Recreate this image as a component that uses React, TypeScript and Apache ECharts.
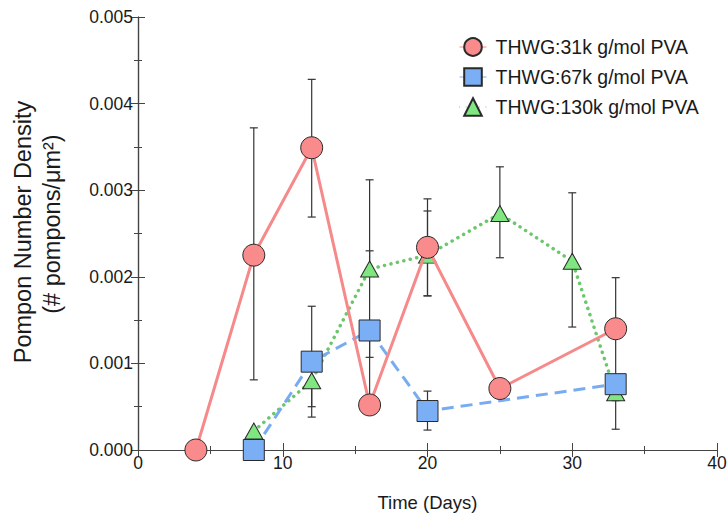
import React, { useEffect, useRef } from "react";
import * as echarts from "echarts";

const seriesNames = ["THWG:31k g/mol PVA", "THWG:67k g/mol PVA", "THWG:130k g/mol PVA"];

const days31 = [4, 8, 12, 16, 20, 25, 33];
const dens31 = [0, 0.00225, 0.00349, 0.00052, 0.00234, 0.00071, 0.0014];
const err31 = [
  [8, 0.00081, 0.00372],
  [12, 0.00269, 0.00428],
  [16, 0.00052, 0.00312],
  [20, 0.00178, 0.0029],
  [33, 0.0008, 0.00199],
];

const days67 = [8, 12, 16, 20, 33];
const dens67 = [0, 0.00102, 0.00138, 0.00045, 0.00076];
const err67 = [
  [12, 0.00038, 0.00166],
  [16, 0.00107, 0.00138],
  [20, 0.00023, 0.00068],
  [33, 0.00024, 0.00076],
];

const days130 = [8, 12, 16, 20, 25, 30, 33];
const dens130 = [0.00022, 0.0008, 0.00209, 0.00225, 0.00273, 0.00218, 0.00066];
const err130 = [
  [12, 0.0005, 0.0008],
  [16, 0.00209, 0.0023],
  [20, 0.00178, 0.00276],
  [25, 0.00222, 0.00327],
  [30, 0.00142, 0.00297],
  [33, 0.00057, 0.00066],
];

const FONT = "'Liberation Sans', Arial, Helvetica, sans-serif";

const errorRender = (params: any, api: any) => {
  const x = api.value(0);
  const lo = api.coord([x, api.value(1)]);
  const hi = api.coord([x, api.value(2)]);
  const cap = 4;
  const style = { stroke: "#333", lineWidth: 1.2 };
  return {
    type: "group",
    children: [
      { type: "line", shape: { x1: lo[0], y1: lo[1], x2: hi[0], y2: hi[1] }, style },
      { type: "line", shape: { x1: lo[0] - cap, y1: lo[1], x2: lo[0] + cap, y2: lo[1] }, style },
      { type: "line", shape: { x1: hi[0] - cap, y1: hi[1], x2: hi[0] + cap, y2: hi[1] }, style },
    ],
  };
};

export default function App() {
  const ref = useRef<HTMLDivElement>(null);
  useEffect(() => {
    const chart = echarts.init(ref.current!, null, { renderer: "svg" });
    const axisColor = "#444";
    const xBase = {
      type: "value",
      min: 0,
      max: 40,
      interval: 10,
      axisLine: { show: true, lineStyle: { color: axisColor, width: 1.2 } },
      axisTick: { show: true, inside: true, length: 7, lineStyle: { color: axisColor } },
      minorTick: { show: true, splitNumber: 2, length: 4, lineStyle: { color: axisColor } },
      splitLine: { show: false },
    };
    const yBase = {
      type: "value",
      min: 0,
      max: 0.005,
      interval: 0.001,
      axisLine: { show: true, lineStyle: { color: axisColor, width: 1.2 } },
      axisTick: { show: true, inside: true, length: 7, lineStyle: { color: axisColor } },
      minorTick: { show: true, splitNumber: 2, length: 4, lineStyle: { color: axisColor } },
      splitLine: { show: false },
    };
    const toPairs = (xs: number[], ys: number[]) => xs.map((x, i) => [x, ys[i]]);
    chart.setOption({
      animation: false,
      backgroundColor: "#fff",
      textStyle: { fontFamily: FONT },
      grid: { left: 138, right: 10, top: 17, bottom: 64, containLabel: false, outerBoundsMode: "none" },
      xAxis: [
        {
          ...xBase,
          position: "bottom",
          axisLabel: { fontSize: 17.5, color: "#1a1a1a", margin: 4, fontFamily: FONT },
          name: "Time (Days)",
          nameLocation: "middle",
          nameGap: 43,
          nameTextStyle: { fontSize: 18.5, color: "#1a1a1a", fontFamily: FONT },
        },
        { ...xBase, position: "top", axisLabel: { show: false } },
      ],
      yAxis: [
        {
          ...yBase,
          position: "left",
          axisLabel: {
            fontSize: 17.5,
            color: "#1a1a1a",
            margin: 5,
            fontFamily: FONT,
            formatter: (v: number) => v.toFixed(3),
          },
        },
        { ...yBase, position: "right", axisLabel: { show: false } },
      ],
      legend: {
        orient: "vertical",
        left: 454,
        top: 32,
        itemWidth: 27,
        itemHeight: 22,
        itemGap: 10,
        data: seriesNames,
        textStyle: { fontSize: 19.5, color: "#1a1a1a", fontFamily: FONT, padding: [0, 0, 0, 4] },
        lineStyle: { width: 1 },
      },
      graphic: [
        {
          type: "text",
          x: 23,
          y: 232,
          rotation: Math.PI / 2,
          style: {
            text: "Pompon Number Density",
            fontSize: 23.5,
            fontFamily: FONT,
            fill: "#1a1a1a",
            textAlign: "center",
            textVerticalAlign: "middle",
          },
        },
        {
          type: "text",
          x: 52,
          y: 224,
          rotation: Math.PI / 2,
          style: {
            text: "(# pompons/μm²)",
            fontSize: 23.5,
            fontFamily: FONT,
            fill: "#1a1a1a",
            textAlign: "center",
            textVerticalAlign: "middle",
          },
        },
      ],
      series: [
        {
          type: "custom",
          name: "err130",
          renderItem: errorRender,
          data: err130,
          z: 1,
          silent: true,
        },
        {
          type: "custom",
          name: "err67",
          renderItem: errorRender,
          data: err67,
          z: 1,
          silent: true,
        },
        {
          type: "custom",
          name: "err31",
          renderItem: errorRender,
          data: err31,
          z: 1,
          silent: true,
        },
        {
          type: "line",
          name: seriesNames[2],
          data: toPairs(days130, dens130),
          symbol: "triangle",
          symbolSize: [18, 16],
          clip: false,
          z: 2,
          lineStyle: { color: "#6cc76c", width: 3.5, type: [0.1, 6.5], cap: "round" },
          itemStyle: { color: "#80e680", borderColor: "#2a2a2a", borderWidth: 1 },
        },
        {
          type: "line",
          name: seriesNames[1],
          data: toPairs(days67, dens67),
          symbol: "rect",
          symbolSize: 21,
          clip: false,
          z: 3,
          lineStyle: { color: "#78acf2", width: 3, type: [12, 7] },
          itemStyle: { color: "#7aaef5", borderColor: "#2a2a2a", borderWidth: 1 },
        },
        {
          type: "line",
          name: seriesNames[0],
          data: toPairs(days31, dens31),
          symbol: "circle",
          symbolSize: 22,
          clip: false,
          z: 4,
          lineStyle: { color: "#f6898a", width: 3 },
          itemStyle: { color: "#f98b8c", borderColor: "#2a2a2a", borderWidth: 1 },
        },
      ],
    });
    return () => chart.dispose();
  }, []);
  return (
    <div
      ref={ref}
      style={{ position: "fixed", left: 0, top: 0, width: 727, height: 514 }}
    />
  );
}
